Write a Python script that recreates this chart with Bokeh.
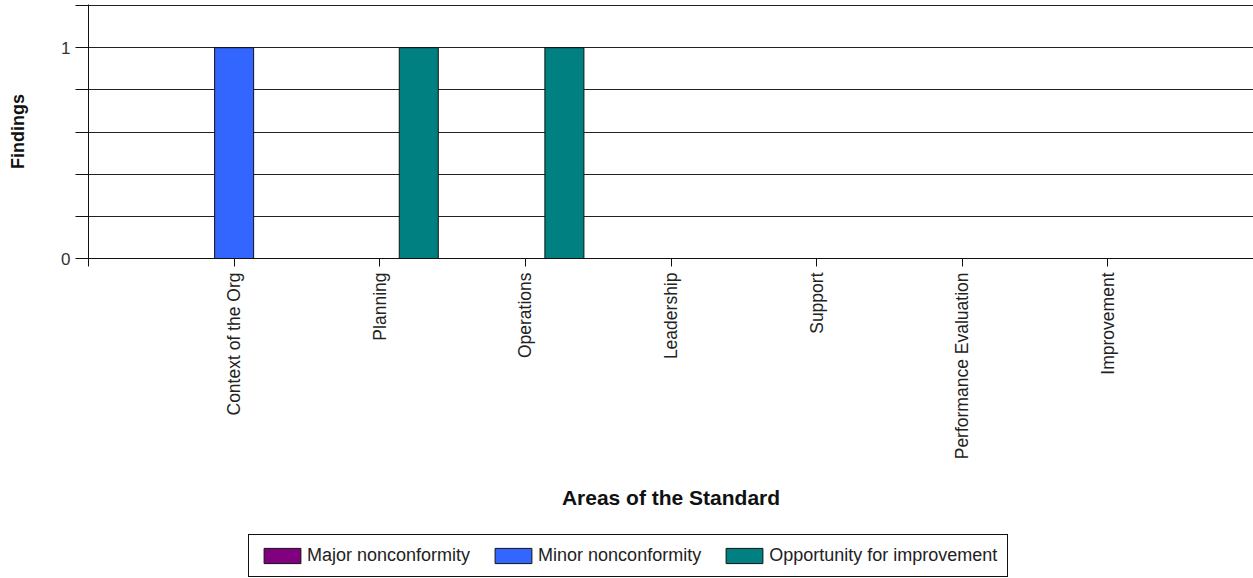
import math
from bokeh.plotting import figure
from bokeh.layouts import column
from bokeh.models import Range1d, FixedTicker, CustomJSTickFormatter, Legend, LegendItem
from bokeh.embed import file_html
from bokeh.resources import INLINE

# ---- data ----
categories = ["Context of the Org", "Planning", "Operations", "Leadership",
              "Support", "Performance Evaluation", "Improvement"]
series_names = ["Major nonconformity", "Minor nonconformity", "Opportunity for improvement"]
major = [0, 0, 0, 0, 0, 0, 0]
minor = [1, 0, 0, 0, 0, 0, 0]
ofi = [0, 1, 1, 0, 0, 0, 0]
y_ticks = [0, 0.2, 0.4, 0.6, 0.8, 1.0, 1.2]
y_max = 1.2

colors = ["#800080", "#3366ff", "#008080"]
values = [major, minor, ofi]
bar_w = 0.268
offsets = [-bar_w, 0.0, bar_w]

FONT = "Liberation Sans"

p = figure(width=1253, height=532,
           x_range=Range1d(0, len(categories) + 1), y_range=Range1d(0, y_max * 1.004),
           output_backend="svg", toolbar_location=None,
           min_border_top=4, min_border_left=88, min_border_right=0, min_border_bottom=274)
p.outline_line_color = None
p.background_fill_color = "white"

# legend-only figure underneath
p2 = figure(width=1253, height=46, x_range=Range1d(0, 1), y_range=Range1d(0, 1),
            output_backend="svg", toolbar_location=None,
            x_axis_location=None, y_axis_location=None, min_border=0)
p2.grid.visible = False
p2.outline_line_color = None

legend_items = []
for name, vals, col, off in zip(series_names, values, colors, offsets):
    xs = [i + 1 + off for i in range(len(categories))]
    p.vbar(x=xs, top=vals, bottom=0, width=bar_w, fill_color=col,
           line_color="#111111", line_width=1)
    r2 = p2.vbar(x=xs, top=vals, bottom=0, width=bar_w, fill_color=col,
                 line_color="#111111", line_width=1, visible=False)
    legend_items.append(LegendItem(label=name, renderers=[r2]))

# x axis
p.xaxis.ticker = FixedTicker(ticks=list(range(0, len(categories) + 1)))
p.xaxis.formatter = CustomJSTickFormatter(args=dict(labels=categories), code="""
    const i = Math.round(tick);
    if (Math.abs(tick - i) < 1e-6 && i >= 1 && i <= labels.length) return labels[i-1];
    return '';
""")
p.xaxis.major_label_orientation = math.pi / 2
p.xaxis.major_label_text_font = FONT
p.xaxis.major_label_text_font_size = "17.5px"
p.xaxis.major_label_text_color = "#222222"
p.xaxis.major_label_standoff = 6
p.xaxis.major_tick_out = 8
p.xaxis.major_tick_in = 0
p.xaxis.minor_tick_out = 0
p.xaxis.minor_tick_in = 0
p.xaxis.axis_line_color = "#111111"
p.xaxis.major_tick_line_color = "#111111"
p.xaxis.axis_label = "Areas of the Standard"
p.xaxis.axis_label_text_font = FONT
p.xaxis.axis_label_text_font_size = "21px"
p.xaxis.axis_label_text_font_style = "bold"
p.xaxis.axis_label_text_color = "#111111"
p.xaxis.axis_label_standoff = 24

# y axis
p.yaxis.ticker = FixedTicker(ticks=y_ticks)
p.yaxis.formatter = CustomJSTickFormatter(code="""
    const i = Math.round(tick);
    if (Math.abs(tick - i) < 1e-6 && (i === 0 || i === 1)) return String(i);
    return '';
""")
p.yaxis.major_label_text_font = FONT
p.yaxis.major_label_text_font_size = "17px"
p.yaxis.major_label_text_color = "#333333"
p.yaxis.major_label_standoff = 5
p.yaxis.major_tick_out = 13
p.yaxis.major_tick_in = 0
p.yaxis.minor_tick_out = 0
p.yaxis.minor_tick_in = 0
p.yaxis.axis_line_color = "#111111"
p.yaxis.major_tick_line_color = "#111111"
p.yaxis.axis_label = "Findings"
p.yaxis.axis_label_text_font = FONT
p.yaxis.axis_label_text_font_size = "18px"
p.yaxis.axis_label_text_font_style = "bold"
p.yaxis.axis_label_text_color = "#111111"
p.yaxis.axis_label_standoff = 30

p.xgrid.grid_line_color = None
p.ygrid.grid_line_color = "#222222"
p.ygrid.grid_line_width = 1

legend = Legend(items=legend_items, orientation="horizontal", location=(160, 1))
legend.border_line_color = "#111111"
legend.border_line_alpha = 1.0
legend.border_line_width = 1
legend.padding = 10
legend.spacing = 20
legend.margin = 0
legend.label_standoff = 2
legend.glyph_width = 46
legend.glyph_height = 19
legend.label_text_font = FONT
legend.label_text_font_size = "18px"
legend.label_text_color = "#222222"
p2.add_layout(legend, "center")

layout = column(p, p2, spacing=0)
open("out.html", "w").write(file_html(layout, INLINE))
